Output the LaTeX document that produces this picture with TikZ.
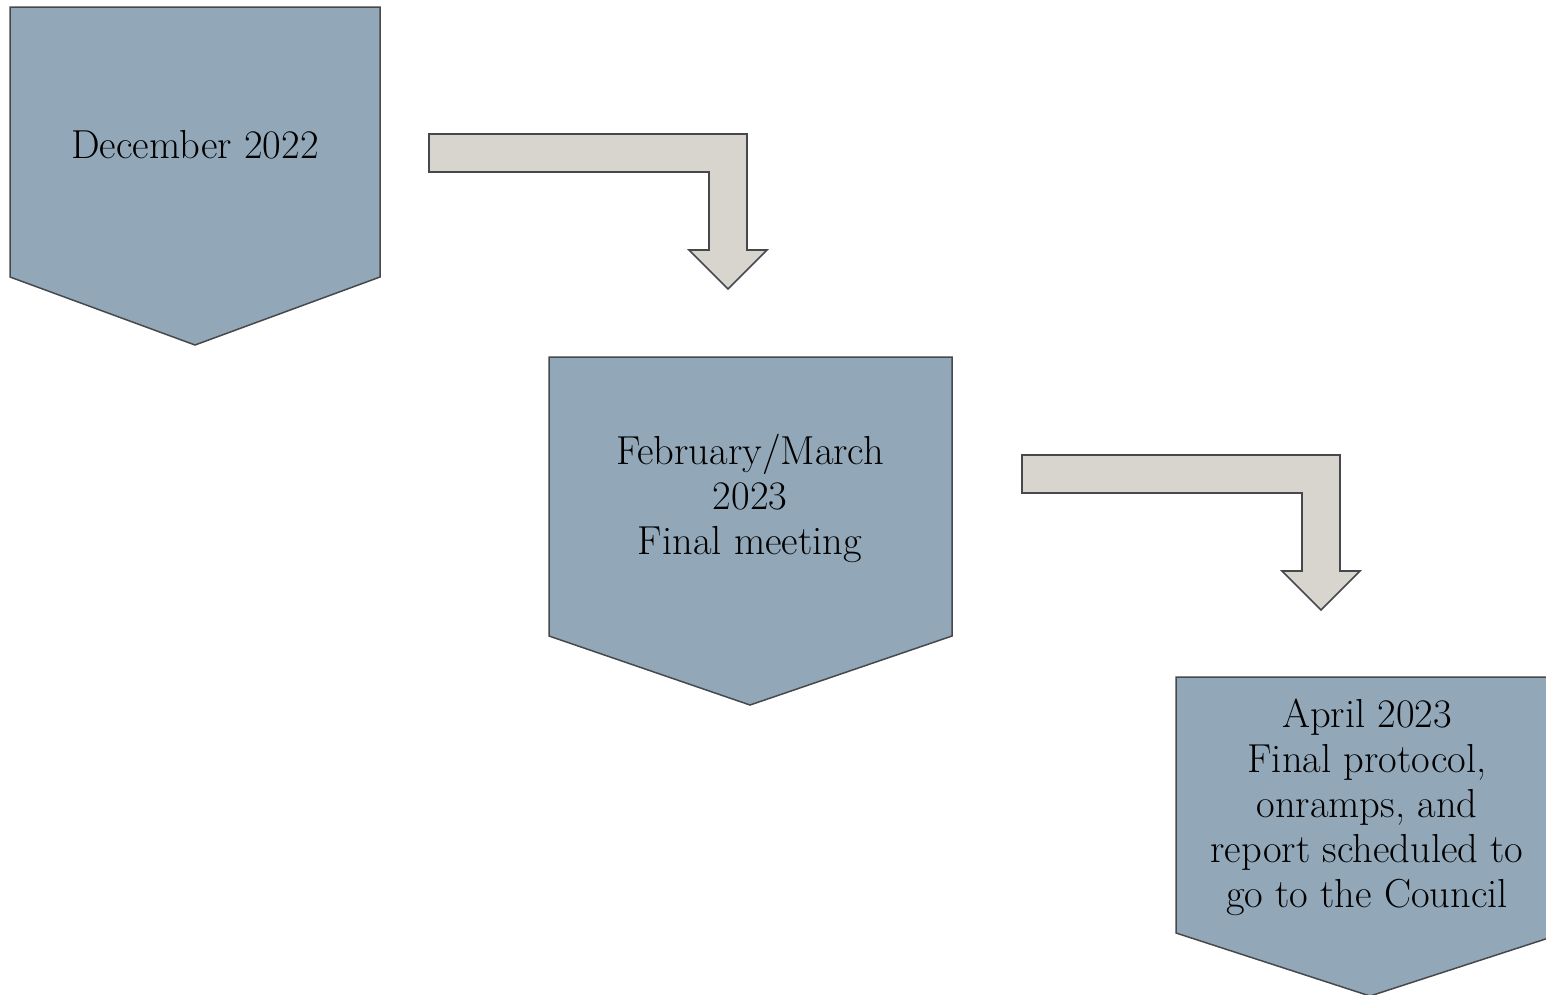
\documentclass[tikz,border=0pt]{standalone}
\usepackage{tikz}
\definecolor{stageblue}{RGB}{146,168,185}
\definecolor{arrowgray}{RGB}{215,213,206}
\definecolor{edgegray}{RGB}{70,72,76}
% bent block arrow, #1 = its top left corner
\newcommand{\bentarrow}[1]{%
  \draw[turn] (#1) -- ++(318,0) -- ++(0,116) -- ++(20,0) -- ++(-39,39)
    -- ++(-39,-39) -- ++(20,0) -- ++(0,-78) -- ++(-280,0) -- cycle;}
\begin{document}
\begin{tikzpicture}[x=1pt, y=-1pt]
\tikzset{stage/.style={fill=stageblue, draw=edgegray, line width=1.5pt}}
\tikzset{turn/.style={fill=arrowgray, draw=edgegray, line width=1.7pt}}
\tikzset{label/.style={align=center, font=\fontsize{40.5}{45}\selectfont, inner sep=0pt}}
\useasboundingbox (0,0) rectangle (1546,994);
\clip (0,0) rectangle (1546,994);
% stages
\draw[stage] (10,7) -- (380,7) -- (380,277) -- (195,345) -- (10,277) -- cycle;
\draw[stage] (549,357) -- (952,357) -- (952,636) -- (750,705) -- (549,636) -- cycle;
\draw[stage] (1176,677) -- (1564,677) -- (1564,933) -- (1370,996) -- (1176,933) -- cycle;
% arrows
\bentarrow{429,134}
\bentarrow{1022,455}
% texts
\node[label] (dec) at (195,145) {December 2022};
\node[label] (febmar) at (750,498) {February/March\\2023\\Final meeting};
\node[label] (apr) at (1367,807) {April 2023\\Final protocol,\\onramps, and\\report scheduled to\\go to the Council};
\end{tikzpicture}
\end{document}
